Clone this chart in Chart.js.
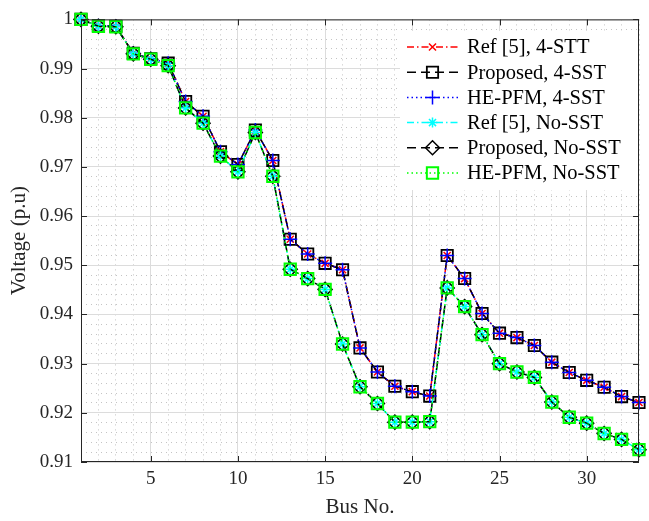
<!DOCTYPE html>
<html>
<head>
<meta charset="utf-8">
<script src="https://cdn.jsdelivr.net/npm/chart.js@4/dist/chart.umd.min.js"></script>
<style>
  body { margin: 0; background: #fff; }
  #wrap { width: 649px; height: 521px; }
</style>
</head>
<body>
<div id="wrap"><canvas id="voltageChart" width="649" height="521"></canvas></div>
<script>
const busNo = [1, 2, 3, 4, 5, 6, 7, 8, 9, 10, 11, 12, 13, 14, 15, 16, 17,
  18, 19, 20, 21, 22, 23, 24, 25, 26, 27, 28, 29, 30, 31, 32, 33];

// voltage profile with the 4 SSTs
const voltSST = [1.0, 0.9987, 0.9986, 0.9931, 0.992, 0.9911, 0.9833, 0.9803,
  0.9731, 0.9705, 0.9775, 0.9713, 0.9553, 0.9523, 0.9504, 0.9491, 0.9332,
  0.9283, 0.9254, 0.9243, 0.9234, 0.952, 0.9473, 0.9402, 0.9362, 0.9353,
  0.9337, 0.9303, 0.9282, 0.9266, 0.9252, 0.9233, 0.9221];

// voltage profile without SST
const voltNoSST = [1.0, 0.9986, 0.9985, 0.993, 0.9919, 0.9906, 0.982, 0.9789,
  0.9722, 0.969, 0.977, 0.9681, 0.9492, 0.9473, 0.9451, 0.934, 0.9253,
  0.9219, 0.9181, 0.9181, 0.9182, 0.9454, 0.9416, 0.9359, 0.93, 0.9283,
  0.9272, 0.9222, 0.9191, 0.9179, 0.9158, 0.9146, 0.9125];

const seriesNames = ["Ref [5], 4-STT", "Proposed, 4-SST", "HE-PFM, 4-SST",
  "Ref [5], No-SST", "Proposed, No-SST", "HE-PFM, No-SST"];

const xMajor = [5, 10, 15, 20, 25, 30];
const yMajor = [0.91, 0.92, 0.93, 0.94, 0.95, 0.96, 0.97, 0.98, 0.99, 1];

const FONT = "'Liberation Serif', 'Times New Roman', serif";

function pts(values) {
  return busNo.map((b, i) => ({ x: b, y: values[i] }));
}

const styles = [
  { color: "#ff0000", dash: [7, 3, 1.5, 3], point: "crossRot", r: 5, pw: 1.5 },
  { color: "#000000", dash: [9, 5], point: "rect", r: 8, pw: 1.8 },
  { color: "#0000ff", dash: [1.5, 3], point: "cross", r: 7, pw: 1.5 },
  { color: "#00ffff", dash: [7, 3, 1.5, 3], point: "star", r: 5, pw: 1.5 },
  { color: "#000000", dash: [9, 5], point: "rectRot", r: 7, pw: 1.5 },
  { color: "#00ff00", dash: [1.5, 3], point: "rect", r: 8, pw: 2 },
];
const seriesData = [voltSST, voltSST, voltSST, voltNoSST, voltNoSST, voltNoSST];

const datasets = seriesNames.map((name, i) => ({
  label: name,
  data: pts(seriesData[i]),
  borderColor: styles[i].color,
  backgroundColor: "rgba(0,0,0,0)",
  borderWidth: 1.5,
  borderDash: styles[i].dash,
  pointStyle: styles[i].point,
  pointRadius: styles[i].r,
  pointBorderWidth: styles[i].pw,
  pointBorderColor: styles[i].color,
  pointBackgroundColor: "rgba(0,0,0,0)",
  fill: false,
  tension: 0,
  clip: false,
  order: seriesNames.length - i,
}));

function isMajor(v, list) {
  return list.some((m) => Math.abs(m - v) < 1e-6);
}

// frame, inward ticks and the legend inside the axes
const matlabLook = {
  id: "matlabLook",
  afterDraw(chart) {
    const ctx = chart.ctx;
    const a = chart.chartArea;
    const xs = chart.scales.x;
    const ys = chart.scales.y;
    ctx.save();
    ctx.strokeStyle = "#262626";
    ctx.lineWidth = 1;
    ctx.setLineDash([]);
    ctx.strokeRect(a.left + 0.5, a.top + 0.5, a.right - a.left - 1, a.bottom - a.top - 1);
    ctx.beginPath();
    xMajor.forEach((v) => {
      const px = Math.round(xs.getPixelForValue(v)) + 0.5;
      ctx.moveTo(px, a.bottom); ctx.lineTo(px, a.bottom - 6);
      ctx.moveTo(px, a.top); ctx.lineTo(px, a.top + 6);
    });
    yMajor.forEach((v) => {
      const py = Math.round(ys.getPixelForValue(v)) + 0.5;
      ctx.moveTo(a.left, py); ctx.lineTo(a.left + 6, py);
      ctx.moveTo(a.right, py); ctx.lineTo(a.right - 6, py);
    });
    ctx.stroke();

    // legend
    const bx = 400, by = 31, bw = 238, bh = 159;
    ctx.fillStyle = "#ffffff";
    ctx.fillRect(bx, by, bw, bh);
    ctx.font = "20.5px " + FONT;
    ctx.textBaseline = "middle";
    ctx.textAlign = "left";
    chart.data.datasets.forEach((ds, i) => {
      const y = 47 + i * 25.2;
      ctx.strokeStyle = ds.borderColor;
      ctx.lineWidth = 1.5;
      ctx.setLineDash(ds.borderDash);
      ctx.beginPath();
      ctx.moveTo(407, y); ctx.lineTo(458, y);
      ctx.stroke();
      ctx.setLineDash([]);
      ctx.lineWidth = ds.pointBorderWidth;
      ctx.strokeStyle = ds.pointBorderColor;
      ctx.fillStyle = "rgba(0,0,0,0)";
      Chart.helpers.drawPoint(ctx, {
        pointStyle: ds.pointStyle,
        radius: ds.pointRadius,
        rotation: 0,
        borderWidth: ds.pointBorderWidth,
      }, 432.5, y);
      ctx.fillStyle = "#000000";
      ctx.fillText(ds.label, 467, y + 1);
    });
    ctx.restore();
  },
};

new Chart(document.getElementById("voltageChart"), {
  type: "line",
  data: { datasets: datasets },
  options: {
    responsive: false,
    animation: false,
    devicePixelRatio: 1,
    layout: { padding: { top: 18, right: 3, left: 0, bottom: 0 } },
    plugins: {
      legend: { display: false },
      tooltip: { enabled: false },
    },
    scales: {
      x: {
        type: "linear",
        min: 1,
        max: 33,
        afterFit: (scale) => { scale.height = 59; },
        ticks: {
          stepSize: 1,
          autoSkip: false,
          maxRotation: 0,
          padding: 6,
          color: "#262626",
          font: { family: FONT, size: 19 },
          callback: (v) => (isMajor(v, xMajor) ? String(v) : ""),
        },
        grid: {
          drawTicks: false,
          color: (c) => (isMajor(c.tick.value, xMajor) ? "#dcdcdc" : "#c4c4c4"),
          lineWidth: 1,
        },
        border: {
          display: false,
          dash: (c) => (c.tick && isMajor(c.tick.value, xMajor) ? [] : [1, 4]),
        },
        title: {
          display: true,
          text: "Bus No.",
          color: "#262626",
          font: { family: FONT, size: 21 },
          padding: { top: 0, bottom: 1 },
        },
      },
      y: {
        type: "linear",
        min: 0.91,
        max: 1,
        afterFit: (scale) => { scale.width = 81; },
        ticks: {
          stepSize: 0.002,
          autoSkip: false,
          maxTicksLimit: 100,
          padding: 8,
          color: "#262626",
          font: { family: FONT, size: 19 },
          callback: (v) => (isMajor(v, yMajor) ? String(+v.toFixed(2)) : ""),
        },
        grid: {
          drawTicks: false,
          color: (c) => (isMajor(c.tick.value, yMajor) ? "#dcdcdc" : "#c4c4c4"),
          lineWidth: 1,
        },
        border: {
          display: false,
          dash: (c) => (c.tick && isMajor(c.tick.value, yMajor) ? [] : [1, 4]),
        },
        title: {
          display: true,
          text: "Voltage (p.u)",
          color: "#262626",
          font: { family: FONT, size: 21 },
          padding: { top: 7, bottom: 0 },
        },
      },
    },
  },
  plugins: [matlabLook],
});
</script>
</body>
</html>
